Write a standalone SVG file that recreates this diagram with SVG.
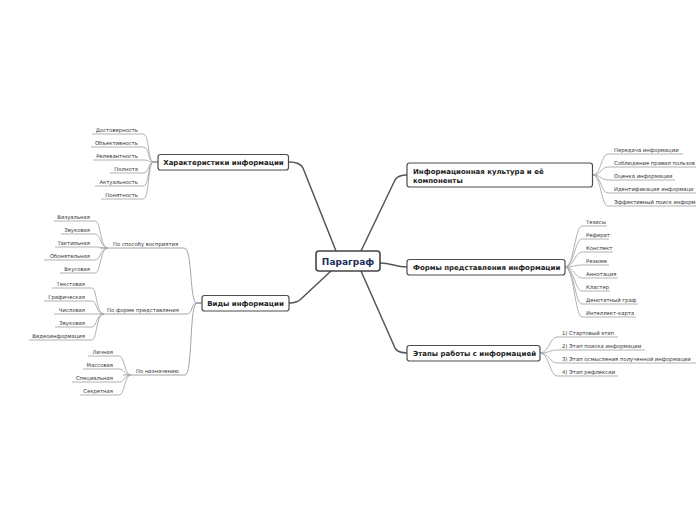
<svg xmlns="http://www.w3.org/2000/svg" width="696" height="520" viewBox="0 0 696 520">
<style>
.bg{fill:#ffffff}
.main{fill:none;stroke:#555555;stroke-width:1.5;stroke-linecap:round}
.leafc{fill:none;stroke:#a8a8a8;stroke-width:0.9}
.subc{fill:none;stroke:#9a9a9a;stroke-width:0.9}
.box{fill:#ffffff;stroke:#4d4d4d;stroke-width:1.2}
.cbox{fill:#ffffff;stroke:#444444;stroke-width:1.6}
.ct{font-family:"DejaVu Sans",Verdana,sans-serif;font-weight:bold;font-size:9px;fill:#1b2d5b}
.mt{font-family:"DejaVu Sans",Verdana,sans-serif;font-weight:bold;font-size:7px;fill:#222222}
.lt{font-family:"DejaVu Sans",Verdana,sans-serif;font-size:5.3px;fill:#333333}
.e{text-anchor:end}
</style>
<rect class="bg" x="0" y="0" width="696" height="520"/>
<g id="connectors">
<path class="main" d="M336,251 L303,168 Q300,162 289,162"/>
<path class="main" d="M331,271 L301,299 Q297,303 289,303"/>
<path class="main" d="M361,251 L395,180 Q398,175 407,175"/>
<path class="main" d="M380,263 C392,263 395,267 407,267"/>
<path class="main" d="M361,271 L395,348 Q398,353 407,353"/>
<path class="leafc" d="M158,162 H154 C147,162 150,134 143,134 H92"/>
<path class="leafc" d="M158,162 H154 C147,162 150,147 143,147 H91"/>
<path class="leafc" d="M158,162 H154 C147,162 150,160 143,160 H93"/>
<path class="leafc" d="M158,162 H154 C147,162 150,173 143,173 H110"/>
<path class="leafc" d="M158,162 H154 C147,162 150,186 143,186 H95"/>
<path class="leafc" d="M158,162 H154 C147,162 150,199 143,199 H101"/>
<path class="subc" d="M202,303 H197 C189,303 193,248 184,248 H100"/>
<path class="subc" d="M202,303 H197 C190,303 194,314 186,314 H100"/>
<path class="subc" d="M202,303 H197 C189,303 193,375 185,375 H123"/>
<path class="leafc" d="M108,248 C100,248 101,221 95,221 H54"/>
<path class="leafc" d="M108,248 C100,248 101,234 95,234 H61"/>
<path class="leafc" d="M108,248 C100,248 101,247 95,247 H55"/>
<path class="leafc" d="M108,248 C100,248 101,260 95,260 H44"/>
<path class="leafc" d="M108,248 C100,248 101,273 95,273 H60"/>
<path class="leafc" d="M104,314 C96,314 97,288 92,288 H52"/>
<path class="leafc" d="M104,314 C96,314 97,301 92,301 H44"/>
<path class="leafc" d="M104,314 C96,314 97,314 92,314 H54"/>
<path class="leafc" d="M104,314 C96,314 97,327 92,327 H55"/>
<path class="leafc" d="M104,314 C96,314 97,340 92,340 H29"/>
<path class="leafc" d="M131,375 C124,375 125,356 119,356 H88"/>
<path class="leafc" d="M131,375 C124,375 125,369 119,369 H83"/>
<path class="leafc" d="M131,375 C124,375 125,382 119,382 H72"/>
<path class="leafc" d="M131,375 C124,375 125,395 119,395 H80"/>
<path class="leafc" d="M593,175 C601,175 601,154 608,154 H683"/>
<path class="leafc" d="M593,175 C601,175 601,167 608,167 H696"/>
<path class="leafc" d="M593,175 C601,175 601,180 608,180 H675"/>
<path class="leafc" d="M593,175 C601,175 601,193 608,193 H696"/>
<path class="leafc" d="M593,175 C601,175 601,206 608,206 H696"/>
<path class="leafc" d="M565,267 C574,267 575,226 582,226 H607"/>
<path class="leafc" d="M565,267 C574,267 575,239 582,239 H609"/>
<path class="leafc" d="M565,267 C574,267 575,252 582,252 H613"/>
<path class="leafc" d="M565,267 C574,267 575,265 582,265 H609"/>
<path class="leafc" d="M565,267 C574,267 575,278 582,278 H618"/>
<path class="leafc" d="M565,267 C574,267 575,291 582,291 H610"/>
<path class="leafc" d="M565,267 C574,267 575,304 582,304 H638"/>
<path class="leafc" d="M565,267 C574,267 575,317 582,317 H636"/>
<path class="leafc" d="M540,353 C549,353 550,337 557,337 H618"/>
<path class="leafc" d="M540,353 C549,353 550,350 557,350 H645"/>
<path class="leafc" d="M540,353 C549,353 550,363 557,363 H696"/>
<path class="leafc" d="M540,353 C549,353 550,376 557,376 H618"/>
</g>
<g id="n-paragraf">
<rect class="cbox" x="316" y="251" width="64" height="20" rx="3"/>
<text class="ct" x="348" y="264.5" text-anchor="middle">Параграф</text>
</g>
<g id="n-harakteristiki">
<rect class="box" x="158" y="154.5" width="130.5" height="15.5" rx="2.5"/>
<text class="mt" x="223.5" y="164.8" text-anchor="middle">Характеристики информации</text>
</g>
<g id="n-vidy">
<rect class="box" x="202" y="295.5" width="87" height="15.5" rx="2.5"/>
<text class="mt" x="245.5" y="305.8" text-anchor="middle">Виды информации</text>
</g>
<g id="n-kultura">
<rect class="box" x="407" y="163" width="185.5" height="24" rx="2.5"/>
<text class="mt" x="413" y="174">Информационная культура и её</text>
<text class="mt" x="413" y="182.5">компоненты</text>
</g>
<g id="n-formy">
<rect class="box" x="407" y="259.5" width="158" height="15.5" rx="2.5"/>
<text class="mt" x="413" y="269.8">Формы представления информации</text>
</g>
<g id="n-etapy">
<rect class="box" x="407" y="345.5" width="133" height="15.5" rx="2.5"/>
<text class="mt" x="413" y="355.8">Этапы работы с информацией</text>
</g>
<g id="leaves-harakteristiki">
<text class="lt e" x="138" y="131.5">Достоверность</text>
<text class="lt e" x="138" y="144.5">Объективность</text>
<text class="lt e" x="138" y="157.5">Релевантность</text>
<text class="lt e" x="138" y="170.5">Полнота</text>
<text class="lt e" x="138" y="183.5">Актуальность</text>
<text class="lt e" x="138" y="196.5">Понятность</text>
</g>
<g id="sub-vidy">
<text class="lt" x="113" y="245.5">По способу восприятия</text>
<text class="lt" x="107" y="311.5">По форме представления</text>
<text class="lt" x="136" y="372.5">По назначению</text>
</g>
<g id="leaves-sposob">
<text class="lt e" x="90" y="218.5">Визуальная</text>
<text class="lt e" x="90" y="231.5">Звуковая</text>
<text class="lt e" x="90" y="244.5">Тактильная</text>
<text class="lt e" x="90" y="257.5">Обонятельная</text>
<text class="lt e" x="90" y="270.5">Вкусовая</text>
</g>
<g id="leaves-forma">
<text class="lt e" x="85" y="285.5">Текстовая</text>
<text class="lt e" x="85" y="298.5">Графическая</text>
<text class="lt e" x="85" y="311.5">Числовая</text>
<text class="lt e" x="85" y="324.5">Звуковая</text>
<text class="lt e" x="85" y="337.5">Видеоинформация</text>
</g>
<g id="leaves-naznachenie">
<text class="lt e" x="113" y="353.5">Личная</text>
<text class="lt e" x="113" y="366.5">Массовая</text>
<text class="lt e" x="113" y="379.5">Специальная</text>
<text class="lt e" x="113" y="392.5">Секретная</text>
</g>
<g id="leaves-kultura">
<text class="lt" x="614" y="151.5">Передача информации</text>
<text class="lt" x="614" y="164.5">Соблюдение правил пользов</text>
<text class="lt" x="614" y="177.5">Оценка информации</text>
<text class="lt" x="614" y="190.5">Идентификация информаци</text>
<text class="lt" x="614" y="203.5">Эффективный поиск информ</text>
</g>
<g id="leaves-formy">
<text class="lt" x="586" y="223.5">Тезисы</text>
<text class="lt" x="586" y="236.5">Реферат</text>
<text class="lt" x="586" y="249.5">Конспект</text>
<text class="lt" x="586" y="262.5">Резюме</text>
<text class="lt" x="586" y="275.5">Аннотация</text>
<text class="lt" x="586" y="288.5">Кластер</text>
<text class="lt" x="586" y="301.5">Денотатный граф</text>
<text class="lt" x="586" y="314.5">Интеллект-карта</text>
</g>
<g id="leaves-etapy">
<text class="lt" x="562" y="334.5">1) Стартовый этап</text>
<text class="lt" x="562" y="347.5">2) Этап поиска информации</text>
<text class="lt" x="562" y="360.5">3) Этап осмысления полученной информации</text>
<text class="lt" x="562" y="373.5">4) Этап рефлексии</text>
</g>
</svg>
